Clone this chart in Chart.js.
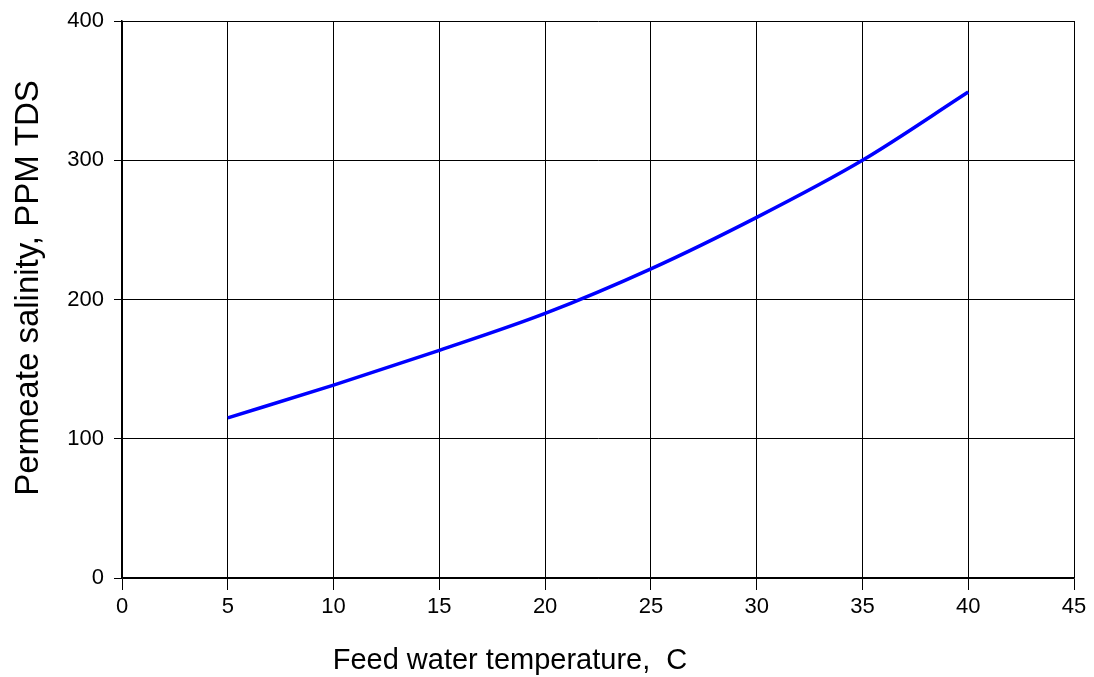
<!DOCTYPE html>
<html lang="en">
<head>
    <meta charset="UTF-8">
    <title>Permeate salinity vs feed water temperature</title>
    <script src="https://cdn.jsdelivr.net/npm/chart.js"></script>
    <style>
        body, html {
            margin: 0;
            padding: 0;
            background: #fff;
        }
        #wrap {
            width: 1094px;
            height: 677px;
            position: relative;
        }
    </style>
</head>
<body>
    <div id="wrap"><canvas id="salinityChart"></canvas></div>
    <script>
        // feed water temperature, C
        const temps = [5, 10, 15, 20, 25, 30, 35, 40];
        // permeate salinity, PPM TDS
        const salinity = [115, 138.5, 163.5, 190, 222, 259, 300, 349];

        const xTitle = 'Feed water temperature,  C';
        const yTitle = 'Permeate salinity, PPM TDS';

        const fontFamily = "'Liberation Sans', Arial, sans-serif";

        // axis titles drawn by hand so they sit where the original puts them
        const axisTitles = {
            id: 'axisTitles',
            afterDraw(chart) {
                const ctx = chart.ctx;
                ctx.save();
                ctx.fillStyle = '#000';
                ctx.textAlign = 'center';
                ctx.textBaseline = 'middle';
                ctx.font = '29px ' + fontFamily;
                ctx.fillText(xTitle, 510, 661);
                ctx.font = '33px ' + fontFamily;
                ctx.translate(29, 288);
                ctx.rotate(-Math.PI / 2);
                ctx.fillText(yTitle, 0, 0);
                ctx.restore();
            }
        };

        const ctx = document.getElementById('salinityChart').getContext('2d');
        new Chart(ctx, {
            type: 'line',
            data: {
                datasets: [{
                    data: temps.map((t, i) => ({ x: t, y: salinity[i] })),
                    borderColor: '#0000ff',
                    borderWidth: 3.5,
                    pointRadius: 0,
                    cubicInterpolationMode: 'monotone',
                    fill: false
                }]
            },
            options: {
                responsive: true,
                maintainAspectRatio: false,
                animation: false,
                layout: {
                    padding: { top: 21, right: 20, left: 0, bottom: 0 }
                },
                plugins: {
                    legend: { display: false },
                    tooltip: { enabled: false }
                },
                scales: {
                    x: {
                        type: 'linear',
                        min: 0,
                        max: 45,
                        ticks: {
                            stepSize: 5,
                            color: '#000',
                            font: { family: fontFamily, size: 22 },
                            padding: 4,
                            maxRotation: 0
                        },
                        grid: {
                            color: '#000',
                            lineWidth: 1,
                            tickLength: 12,
                            drawTicks: true
                        },
                        border: { color: '#000', width: 1.5 },
                        afterFit(scale) { scale.height = 99; }
                    },
                    y: {
                        min: 0,
                        max: 400,
                        ticks: {
                            stepSize: 100,
                            color: '#000',
                            font: { family: fontFamily, size: 22, lineHeight: 1 },
                            padding: 10
                        },
                        grid: {
                            color: '#000',
                            lineWidth: 1,
                            tickLength: 8,
                            drawTicks: true
                        },
                        border: { color: '#000', width: 1.5 },
                        afterFit(scale) { scale.width = 122; }
                    }
                }
            },
            plugins: [axisTitles]
        });
    </script>
</body>
</html>
